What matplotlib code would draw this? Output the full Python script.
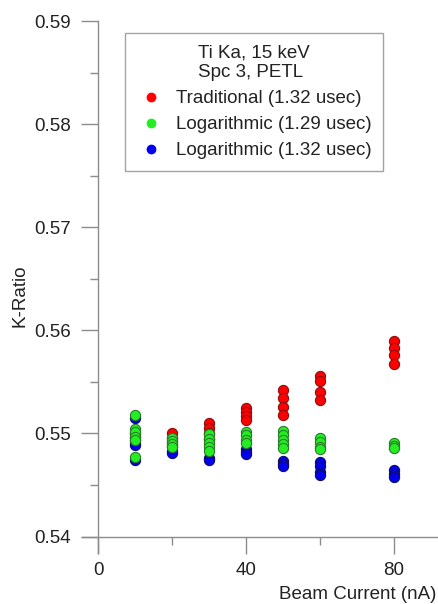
import numpy as np
import matplotlib.pyplot as plt
from matplotlib.lines import Line2D
from matplotlib.ticker import MultipleLocator

plt.rcParams['font.family'] = ['Liberation Sans', 'DejaVu Sans']

# Traditional PHA, 1.32 usec dead time
trad_current = [10, 10, 10, 10, 20, 20, 20, 20, 30, 30, 30, 30,
                40, 40, 40, 40, 50, 50, 50, 50, 60, 60, 60, 60, 80, 80, 80, 80]
trad_kratio = [0.5500, 0.5497, 0.5494, 0.5491, 0.5500, 0.5496, 0.5492, 0.5488,
               0.5510, 0.5505, 0.5500, 0.5495, 0.5525, 0.5521, 0.5517, 0.5513,
               0.5542, 0.5534, 0.5526, 0.5518, 0.5556, 0.5551, 0.5540, 0.5532,
               0.5590, 0.5583, 0.5576, 0.5567]

# Logarithmic, 1.29 usec
log129_current = [10, 10, 10, 10, 10, 10, 20, 20, 20, 20, 30, 30, 30, 30, 30,
                  40, 40, 40, 40, 50, 50, 50, 50, 50, 60, 60, 60, 60, 80, 80, 80]
log129_kratio = [0.5518, 0.5504, 0.5501, 0.5497, 0.5494, 0.5477,
                 0.5496, 0.5493, 0.5490, 0.5487,
                 0.5499, 0.5495, 0.5491, 0.5487, 0.5483,
                 0.5501, 0.5498, 0.5494, 0.5491,
                 0.5502, 0.5498, 0.5494, 0.5490, 0.5486,
                 0.5496, 0.5492, 0.5487, 0.5485,
                 0.5491, 0.5488, 0.5486]

# Logarithmic, 1.32 usec
log132_current = [10, 10, 10, 20, 20, 30, 30, 40, 40, 40, 50, 50, 50,
                  60, 60, 60, 60, 80, 80, 80]
log132_kratio = [0.5515, 0.5489, 0.5474, 0.5483, 0.5481, 0.5476, 0.5474,
                 0.5485, 0.5482, 0.5480, 0.5473, 0.5470, 0.5468,
                 0.5472, 0.5468, 0.5463, 0.5460, 0.5465, 0.5461, 0.5458]

labels = ['Traditional (1.32 usec)', 'Logarithmic (1.29 usec)', 'Logarithmic (1.32 usec)']
fills = ['#ff0000', '#22ee22', '#0000ee']
edges = ['#8a1010', '#2a7a2a', '#101060']

fig = plt.figure(figsize=(4.38, 6.04), dpi=100)
ax = fig.add_axes([0.1865, 0.0844, 0.8135, 0.8808])

ms = 54
ax.scatter(trad_current, trad_kratio, s=ms, c=fills[0], edgecolors=edges[0], linewidths=0.8, zorder=3)
ax.scatter(log132_current, log132_kratio, s=ms, c=fills[2], edgecolors=edges[2], linewidths=0.8, zorder=3)
ax.scatter(log129_current, log129_kratio, s=ms, c=fills[1], edgecolors=edges[1], linewidths=0.8, zorder=4)

ax.set_xlim(-4.5, 92)
ax.set_ylim(0.5384, 0.59)

# axes cross at (0, 0.54)
for side in ['top', 'right']:
    ax.spines[side].set_visible(False)
ax.spines['left'].set_position(('data', 0))
ax.spines['bottom'].set_position(('data', 0.54))
gray = '#8c8c8c'
for side in ['left', 'bottom']:
    ax.spines[side].set_color(gray)
    ax.spines[side].set_linewidth(1.0)

ax.xaxis.set_minor_locator(MultipleLocator(20))
ax.yaxis.set_minor_locator(MultipleLocator(0.005))
ax.set_yticks(np.arange(0.54, 0.5901, 0.01))
ax.set_xticks([0, 40, 80])
ax.tick_params(which='major', direction='out', length=12.5, width=1.0, color=gray,
               labelsize=13.5, labelcolor='#222222')
ax.tick_params(which='minor', direction='out', length=6, width=1.0, color=gray)
ax.tick_params(axis='x', which='major', pad=6)
ax.tick_params(axis='y', which='major', pad=7)
ax.yaxis.set_major_formatter(plt.FormatStrFormatter('%.2f'))

fig.text(0.045, 0.51, 'K-Ratio', rotation=90, ha='center', va='center', fontsize=13.5, color='#222222')
fig.text(0.997, 0.016, 'Beam Current (nA)', ha='right', va='center', fontsize=13.5, color='#222222')

handles = [Line2D([], [], linestyle='none', marker='o', markersize=6,
                  markerfacecolor=f, markeredgecolor=f) for f in fills]
leg = ax.legend(handles, labels, title='Ti Ka, 15 keV\nSpc 3, PETL', loc='upper left',
                bbox_to_anchor=(0.1215, 0.978), borderaxespad=0, fontsize=13.5,
                title_fontsize=13.5, frameon=True, fancybox=False, handlelength=1.5,
                handletextpad=0.58, borderpad=0.62, labelspacing=0.48)
leg.get_frame().set_edgecolor(gray)
leg.get_frame().set_linewidth(1.0)
leg.get_title().set_color('#222222')
for t in leg.get_texts():
    t.set_color('#222222')

fig.savefig('out.png', dpi=100)
